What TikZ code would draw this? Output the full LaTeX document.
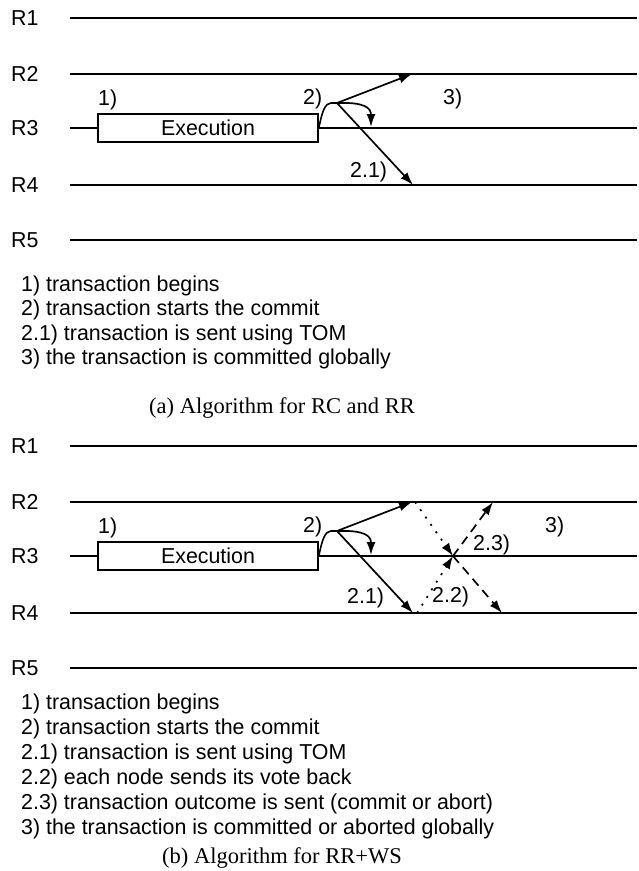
\documentclass[tikz,border=0pt]{standalone}
\usepackage{fontspec}
\setmainfont{Liberation Sans}
\newfontfamily\capfont{Liberation Serif}
\usepackage{graphicx}
\usetikzlibrary{arrows.meta}
\newcommand\hs[1]{\scalebox{0.99}[1]{#1}}
\tikzset{
  lbl/.style={inner sep=0pt, anchor=base west, font=\fontsize{21.6}{25}\selectfont},
  caplbl/.style={inner sep=0pt, anchor=base, font=\capfont\fontsize{22.5}{26}\selectfont},
  rline/.style={line width=2.1pt},
  thin/.style={line width=1.6pt},
  arr/.style={line width=1.7pt, -{Latex[length=13pt,width=9pt]}},
  dotarr/.style={arr, dash pattern=on 2pt off 7pt},
  dasharr/.style={arr, dash pattern=on 9pt off 6pt},
  exbox/.style={draw, line width=1.7pt, minimum width=220pt, minimum height=28pt, inner sep=0pt, font=\fontsize{21.6}{25}\selectfont}
}
% #1 prefix
\newcommand\panelcommon[1]{%
  \foreach \i/\yy in {1/18,2/74,3/128,4/185,5/240}{
    \node[lbl, anchor=base west] (#1lab\i) at (11,\yy+7.6) {\hs{R\i}};
    \coordinate (#1s\i) at (70,\yy);
    \coordinate (#1e\i) at (637,\yy);
  }
  \draw[rline] (#1s1) -- (#1e1);
  \draw[rline] (#1s2) -- (#1e2);
  \draw[rline] (#1s4) -- (#1e4);
  \draw[rline] (#1s5) -- (#1e5);
  \node[exbox] (#1box) at (208,128) {\hs{Execution}};
  \draw[rline] (#1s3) -- (#1box.west);
  \draw[rline] (#1box.east) -- (#1e3);
  \node[lbl] (#1l1) at (98,105) {\hs{1)}};
  \node[lbl] (#1l2) at (303,104) {\hs{2)}};
  \coordinate (#1peak) at (337,103);
  \coordinate (#1t2) at (412,74);
  \coordinate (#1t3) at (371,127);
  \coordinate (#1t4) at (413,185);
  \draw[thin] (#1box.east) .. controls (322,112) and (325,103) .. (331,103) -- (#1peak);
  \draw[arr] (#1peak) -- (#1t2);
  \draw[arr] (#1peak) .. controls (365,102) and (371,108) .. (#1t3);
  \draw[arr] (#1peak) -- (#1t4);
}
\begin{document}
\begin{tikzpicture}[x=1pt,y=-1pt]
\useasboundingbox (0,0) rectangle (638,871);
% ---------- panel (a)
\panelcommon{a}
\node[lbl] (al3) at (443,104) {\hs{3)}};
\node[lbl] (al21) at (350,177) {\hs{2.1)}};
\node[lbl] (alist1) at (21,291) {\hs{1) transaction begins}};
\node[lbl] (alist2) at (21,315.5) {\hs{2) transaction starts the commit}};
\node[lbl] (alist3) at (21,340) {\hs{2.1) transaction is sent using TOM}};
\node[lbl] (alist4) at (21,364.5) {\hs{3) the transaction is committed globally}};
\node[caplbl] (acap) at (282,413) {(a) Algorithm for RC and RR};
% ---------- panel (b)
\begin{scope}[shift={(0,428)}]
\panelcommon{b}
\coordinate (bx) at (453,128);
\coordinate (bd2) at (415,74);
\coordinate (bd4) at (417,185);
\coordinate (bh2) at (493,74);
\coordinate (bh4) at (502,185);
\draw[dotarr] (bd2) -- (bx);
\draw[dotarr] (bd4) -- (bx);
\draw[dasharr] (bx) -- (bh2);
\draw[dasharr] (bx) -- (bh4);
\node[lbl] (bl3) at (545,104) {\hs{3)}};
\node[lbl] (bl21) at (347,175) {\hs{2.1)}};
\node[lbl] (bl22) at (432,174) {\hs{2.2)}};
\node[lbl] (bl23) at (473,122) {\hs{2.3)}};
\end{scope}
\node[lbl] (blist1) at (21,709) {\hs{1) transaction begins}};
\node[lbl] (blist2) at (21,734) {\hs{2) transaction starts the commit}};
\node[lbl] (blist3) at (21,759) {\hs{2.1) transaction is sent using TOM}};
\node[lbl] (blist4) at (21,784) {\hs{2.2) each node sends its vote back}};
\node[lbl] (blist5) at (21,809) {\hs{2.3) transaction outcome is sent (commit or abort)}};
\node[lbl] (blist6) at (21,834) {\hs{3) the transaction is committed or aborted globally}};
\node[caplbl] (bcap) at (282,863) {(b) Algorithm for RR+WS};
\end{tikzpicture}
\end{document}
